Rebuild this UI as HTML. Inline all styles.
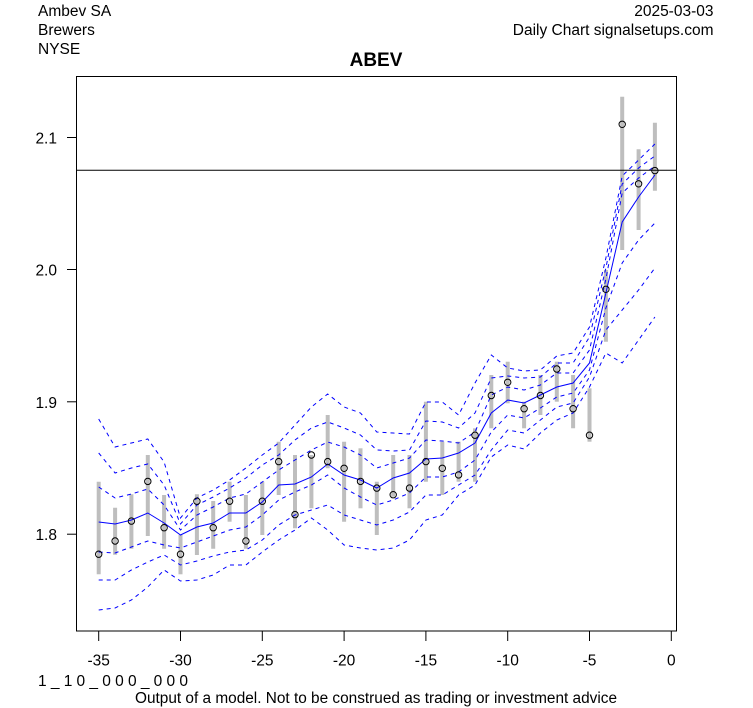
<!DOCTYPE html>
<html>
<head>
<meta charset="utf-8">
<style>
html,body{margin:0;padding:0;background:#fff;}
svg{display:block;}
text{font-family:"Liberation Sans",Arial,sans-serif;fill:#000;}
</style>
</head>
<body>
<svg width="753" height="708" viewBox="0 0 753 708" xmlns="http://www.w3.org/2000/svg">
<rect x="0" y="0" width="753" height="708" fill="#fff"/>

<!-- header -->
<text x="38" y="16" font-size="15.5">Ambev SA</text>
<text x="38" y="35" font-size="15.5">Brewers</text>
<text x="38" y="54" font-size="15.5">NYSE</text>
<text x="713.5" y="16" font-size="15.5" text-anchor="end">2025-03-03</text>
<text x="713.5" y="35" font-size="15.5" text-anchor="end">Daily Chart signalsetups.com</text>
<text x="376" y="66" font-size="19" font-weight="bold" text-anchor="middle">ABEV</text>

<!-- grey hi-lo bars -->
<g stroke="#bebebe" stroke-width="4" fill="none">
<line x1="98.7" y1="481.7" x2="98.7" y2="574.3"/>
<line x1="115.1" y1="507.7" x2="115.1" y2="554.7"/>
<line x1="131.4" y1="494.3" x2="131.4" y2="548.7"/>
<line x1="147.8" y1="455" x2="147.8" y2="536"/>
<line x1="164.1" y1="495" x2="164.1" y2="548.7"/>
<line x1="180.5" y1="535" x2="180.5" y2="574.3"/>
<line x1="196.9" y1="494.3" x2="196.9" y2="555"/>
<line x1="213.2" y1="501" x2="213.2" y2="548.7"/>
<line x1="229.6" y1="481.7" x2="229.6" y2="521.7"/>
<line x1="245.9" y1="495" x2="245.9" y2="548.7"/>
<line x1="262.3" y1="481.7" x2="262.3" y2="535"/>
<line x1="278.7" y1="441.7" x2="278.7" y2="495"/>
<line x1="295" y1="455" x2="295" y2="528.3"/>
<line x1="311.4" y1="455" x2="311.4" y2="508.3"/>
<line x1="327.7" y1="415" x2="327.7" y2="468.3"/>
<line x1="344.1" y1="441.7" x2="344.1" y2="521.7"/>
<line x1="360.5" y1="448.3" x2="360.5" y2="508.3"/>
<line x1="376.8" y1="481.7" x2="376.8" y2="535"/>
<line x1="393.2" y1="455" x2="393.2" y2="496.7"/>
<line x1="409.5" y1="455" x2="409.5" y2="508.3"/>
<line x1="425.9" y1="401.7" x2="425.9" y2="481.7"/>
<line x1="442.3" y1="441.7" x2="442.3" y2="495"/>
<line x1="458.6" y1="441.7" x2="458.6" y2="481.7"/>
<line x1="475" y1="428.3" x2="475" y2="481.7"/>
<line x1="491.3" y1="375" x2="491.3" y2="428.3"/>
<line x1="507.7" y1="361.7" x2="507.7" y2="403.3"/>
<line x1="524.1" y1="401.7" x2="524.1" y2="428.3"/>
<line x1="540.4" y1="375" x2="540.4" y2="415"/>
<line x1="556.8" y1="361.7" x2="556.8" y2="401.7"/>
<line x1="573.1" y1="375" x2="573.1" y2="428.3"/>
<line x1="589.5" y1="388.3" x2="589.5" y2="441.7"/>
<line x1="605.9" y1="270" x2="605.9" y2="341.7"/>
<line x1="622.2" y1="96.7" x2="622.2" y2="250"/>
<line x1="638.6" y1="149.3" x2="638.6" y2="230"/>
<line x1="654.9" y1="122.7" x2="654.9" y2="190.7"/>
</g>

<!-- blue band lines -->
<g fill="none" stroke="#0000ff" stroke-width="1">
<polyline points="98.7,522 115.1,524 131.4,520 147.8,513 164.1,523 180.5,535 196.9,527 213.2,523 229.6,513 245.9,513 262.3,502 278.7,485 295,484 311.4,477 327.7,464 344.1,475 360.5,480 376.8,488 393.2,478 409.5,473 425.9,459 442.3,458 458.6,453 475,443 491.3,413 507.7,400 524.1,403 540.4,395 556.8,387 573.1,383 589.5,363 605.9,293 622.2,222 638.6,197 654.9,175"/>
<g stroke-dasharray="4,4">
<polyline points="98.7,487 115.1,498 131.4,494 147.8,489 164.1,505 180.5,530 196.9,515 213.2,507 229.6,498 245.9,494 262.3,482 278.7,470 295,460 311.4,450 327.7,442 344.1,447 360.5,455 376.8,468 393.2,463 409.5,458 425.9,440 442.3,441 458.6,443 475,432 491.3,395 507.7,387 524.1,390 540.4,385 556.8,373 573.1,373 589.5,350 605.9,279 622.2,193 638.6,178 654.9,166"/>
<polyline points="98.7,453 115.1,473 131.4,468 147.8,464 164.1,485 180.5,524 196.9,505 213.2,497 229.6,488 245.9,478 262.3,465 278.7,455 295,440 311.4,428 327.7,422 344.1,428 360.5,435 376.8,450 393.2,451 409.5,450 425.9,421 442.3,422 458.6,428 475,413 491.3,378 507.7,376 524.1,378 540.4,377 556.8,363 573.1,363 589.5,337 605.9,268 622.2,184 638.6,168 654.9,156"/>
<polyline points="98.7,419 115.1,447 131.4,443 147.8,439 164.1,462 180.5,518 196.9,498 213.2,490 229.6,480 245.9,468 262.3,455 278.7,443 295,425 311.4,407 327.7,394 344.1,407 360.5,413 376.8,432 393.2,433 409.5,434 425.9,402 442.3,402 458.6,415 475,383 491.3,355 507.7,368 524.1,371 540.4,370 556.8,356 573.1,353 589.5,327 605.9,258 622.2,176 638.6,160 654.9,144"/>
<polyline points="98.7,552 115.1,553 131.4,547 147.8,541 164.1,545 180.5,548 196.9,542 213.2,536 229.6,530 245.9,527 262.3,515 278.7,500 295,492 311.4,485 327.7,475 344.1,488 360.5,497 376.8,505 393.2,500 409.5,493 425.9,477 442.3,477 458.6,472 475,460 491.3,432 507.7,415 524.1,418 540.4,408 556.8,397 573.1,393 589.5,370 605.9,308 622.2,263 638.6,240 654.9,223"/>
<polyline points="98.7,580 115.1,580 131.4,570 147.8,562 164.1,555 180.5,565 196.9,561 213.2,556 229.6,552 245.9,550 262.3,540 278.7,525 295,515 311.4,510 327.7,505 344.1,515 360.5,520 376.8,525 393.2,520 409.5,512 425.9,495 442.3,495 458.6,485 475,475 491.3,450 507.7,430 524.1,433 540.4,420 556.8,407 573.1,403 589.5,377 605.9,330 622.2,310 638.6,290 654.9,268"/>
<polyline points="98.7,610 115.1,608 131.4,600 147.8,587 164.1,570 180.5,581 196.9,580 213.2,575 229.6,565 245.9,565 262.3,552 278.7,540 295,530 311.4,518 327.7,530 344.1,545 360.5,548 376.8,550 393.2,548 409.5,540 425.9,520 442.3,515 458.6,495 475,485 491.3,457 507.7,445 524.1,449 540.4,433 556.8,420 573.1,413 589.5,387 605.9,353 622.2,363 638.6,340 654.9,317"/>
</g>
</g>

<!-- circles -->
<g fill="none" stroke="#000" stroke-width="1">
<circle cx="98.7" cy="554.2" r="3.2"/>
<circle cx="115.1" cy="541" r="3.2"/>
<circle cx="131.4" cy="521.1" r="3.2"/>
<circle cx="147.8" cy="481.4" r="3.2"/>
<circle cx="164.1" cy="527.7" r="3.2"/>
<circle cx="180.5" cy="554.2" r="3.2"/>
<circle cx="196.9" cy="501.2" r="3.2"/>
<circle cx="213.2" cy="527.7" r="3.2"/>
<circle cx="229.6" cy="501.2" r="3.2"/>
<circle cx="245.9" cy="541" r="3.2"/>
<circle cx="262.3" cy="501.2" r="3.2"/>
<circle cx="278.7" cy="461.6" r="3.2"/>
<circle cx="295" cy="514.6" r="3.2"/>
<circle cx="311.4" cy="455" r="3.2"/>
<circle cx="327.7" cy="461.6" r="3.2"/>
<circle cx="344.1" cy="468.3" r="3.2"/>
<circle cx="360.5" cy="481.4" r="3.2"/>
<circle cx="376.8" cy="488.1" r="3.2"/>
<circle cx="393.2" cy="494.7" r="3.2"/>
<circle cx="409.5" cy="488.1" r="3.2"/>
<circle cx="425.9" cy="461.6" r="3.2"/>
<circle cx="442.3" cy="468.3" r="3.2"/>
<circle cx="458.6" cy="474.9" r="3.2"/>
<circle cx="475" cy="435.2" r="3.2"/>
<circle cx="491.3" cy="395.5" r="3.2"/>
<circle cx="507.7" cy="382.3" r="3.2"/>
<circle cx="524.1" cy="408.7" r="3.2"/>
<circle cx="540.4" cy="395.5" r="3.2"/>
<circle cx="556.8" cy="369" r="3.2"/>
<circle cx="573.1" cy="408.7" r="3.2"/>
<circle cx="589.5" cy="435.2" r="3.2"/>
<circle cx="605.9" cy="289.3" r="3.2"/>
<circle cx="622.2" cy="124.3" r="3.2"/>
<circle cx="638.6" cy="183.8" r="3.2"/>
<circle cx="654.9" cy="170.6" r="3.2"/>
</g>

<!-- horizontal reference line -->
<line x1="76.5" y1="170.3" x2="676.5" y2="170.3" stroke="#000" stroke-width="1"/>

<!-- plot box -->
<rect x="76.5" y="76.5" width="600" height="554.5" fill="none" stroke="#000" stroke-width="1"/>

<!-- y axis ticks -->
<g stroke="#000" stroke-width="1">
<line x1="67" y1="137.5" x2="76.5" y2="137.5"/>
<line x1="67" y1="269.5" x2="76.5" y2="269.5"/>
<line x1="67" y1="401.8" x2="76.5" y2="401.8"/>
<line x1="67" y1="534.2" x2="76.5" y2="534.2"/>
</g>
<g font-size="15.5" text-anchor="end">
<text x="57" y="143.5">2.1</text>
<text x="57" y="275.5">2.0</text>
<text x="57" y="407.8">1.9</text>
<text x="57" y="540.2">1.8</text>
</g>

<!-- x axis ticks -->
<g stroke="#000" stroke-width="1">
<line x1="98.7" y1="631" x2="98.7" y2="641"/>
<line x1="180.5" y1="631" x2="180.5" y2="641"/>
<line x1="262.3" y1="631" x2="262.3" y2="641"/>
<line x1="344.1" y1="631" x2="344.1" y2="641"/>
<line x1="425.9" y1="631" x2="425.9" y2="641"/>
<line x1="507.7" y1="631" x2="507.7" y2="641"/>
<line x1="589.5" y1="631" x2="589.5" y2="641"/>
<line x1="671.3" y1="631" x2="671.3" y2="641"/>
</g>
<g font-size="15.5" text-anchor="middle">
<text x="98.7" y="665.5">-35</text>
<text x="180.5" y="665.5">-30</text>
<text x="262.3" y="665.5">-25</text>
<text x="344.1" y="665.5">-20</text>
<text x="425.9" y="665.5">-15</text>
<text x="507.7" y="665.5">-10</text>
<text x="589.5" y="665.5">-5</text>
<text x="671.3" y="665.5">0</text>
</g>

<!-- bottom texts -->
<text x="38" y="686" font-size="15.5" textLength="150" lengthAdjust="spacing">1_10_000_000</text>
<text x="135" y="703" font-size="15.5" textLength="482" lengthAdjust="spacingAndGlyphs">Output of a model. Not to be construed as trading or investment advice</text>
</svg>
</body>
</html>
